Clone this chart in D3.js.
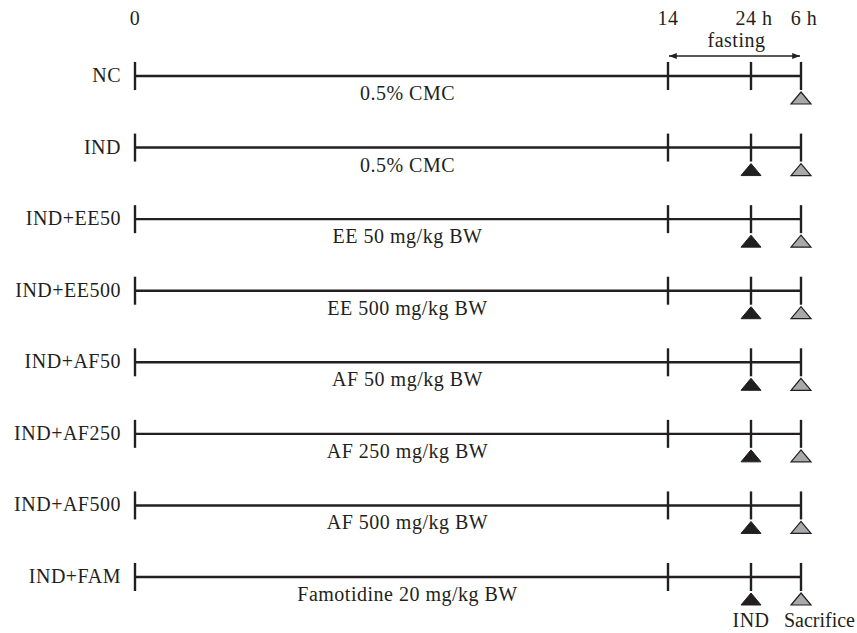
<!DOCTYPE html>
<html>
<head>
<meta charset="utf-8">
<script src="https://cdn.jsdelivr.net/npm/d3@7"></script>
<style>
  body { margin: 0; background: #fff; }
  svg text { font-family: "Liberation Serif", serif; fill: #231f20; font-size: 20px; letter-spacing: 0.5px; }
</style>
</head>
<body>
<div id="chart"></div>
<script>
// groups and what they received
const groups = ["NC", "IND", "IND+EE50", "IND+EE500", "IND+AF50", "IND+AF250", "IND+AF500", "IND+FAM"];
const treatments = ["0.5% CMC", "0.5% CMC", "EE 50 mg/kg BW", "EE 500 mg/kg BW", "AF 50 mg/kg BW",
  "AF 250 mg/kg BW", "AF 500 mg/kg BW", "Famotidine 20 mg/kg BW"];
const gotInd = [false, true, true, true, true, true, true, true];

// time points in days (14 days, then 24 h fasting, then 6 h)
const timePoints = [0, 14, 15, 15.25];
const timeLabels = ["0", "14", "24 h", "6 h"];

var width = 857, height = 633;
var svg = d3.select("#chart").append("svg")
  .attr("width", width)
  .attr("height", height);

// piecewise scale, the fasting part is stretched out
let x = d3.scaleLinear()
  .domain(timePoints)
  .range([135, 668, 751, 801]);

let y = d3.scalePoint()
  .domain(groups)
  .range([76, 577]);

const ink = "#231f20";

// ---- top time labels
svg.selectAll(".tlab")
  .data(timeLabels)
  .enter().append("text")
  .attr("x", (d, i) => x(timePoints[i]) + (i > 1 ? 3 : 0))
  .attr("y", 25)
  .attr("text-anchor", "middle")
  .text(d => d);

// fasting arrow
svg.append("defs").append("marker")
  .attr("id", "ah")
  .attr("viewBox", "0 0 10 10")
  .attr("refX", 10).attr("refY", 5)
  .attr("markerWidth", 6).attr("markerHeight", 6)
  .attr("orient", "auto-start-reverse")
  .append("path")
  .attr("d", "M0,1 L10,5 L0,9 Z")
  .attr("fill", ink);

svg.append("line")
  .attr("x1", x(14) + 1).attr("x2", x(15.25) - 1)
  .attr("y1", 56).attr("y2", 56)
  .attr("stroke", ink).attr("stroke-width", 1.3)
  .attr("marker-start", "url(#ah)")
  .attr("marker-end", "url(#ah)");

svg.append("text")
  .attr("x", (x(14) + x(15.25)) / 2 + 2)
  .attr("y", 47)
  .attr("text-anchor", "middle")
  .text("fasting");

// ---- rows
let rows = svg.selectAll(".row")
  .data(groups)
  .enter().append("g")
  .attr("class", "row")
  .attr("transform", d => `translate(0, ${y(d)})`);

rows.append("line")
  .attr("x1", x(0)).attr("x2", x(15.25))
  .attr("stroke", ink).attr("stroke-width", 2.4);

rows.selectAll(".tick")
  .data(timePoints)
  .enter().append("line")
  .attr("x1", d => x(d)).attr("x2", d => x(d))
  .attr("y1", -14).attr("y2", 14)
  .attr("stroke", ink).attr("stroke-width", 2.4);

rows.append("text")
  .attr("x", x(0) - 14)
  .attr("y", 6)
  .attr("text-anchor", "end")
  .text(d => d);

rows.append("text")
  .attr("x", (x(0) + x(14)) / 2 + 6)
  .attr("y", 24)
  .attr("text-anchor", "middle")
  .text((d, i) => treatments[i]);

// triangles: black = IND dosing, grey = sacrifice
var tri = "M0,0 L10,12 L-10,12 Z";

rows.filter((d, i) => gotInd[i])
  .append("path")
  .attr("d", tri)
  .attr("transform", `translate(${x(15)}, 16)`)
  .attr("fill", ink).attr("stroke", ink).attr("stroke-width", 1);

rows.append("path")
  .attr("d", tri)
  .attr("transform", `translate(${x(15.25)}, 16)`)
  .attr("fill", "#a7a9ac").attr("stroke", ink).attr("stroke-width", 1.2);

// bottom labels under the triangles
svg.append("text")
  .attr("x", x(15)).attr("y", 627)
  .attr("text-anchor", "middle")
  .text("IND");

svg.append("text")
  .attr("x", width - 2).attr("y", 627)
  .attr("text-anchor", "end")
  .style("letter-spacing", "0px")
  .text("Sacrifice");
</script>
</body>
</html>
